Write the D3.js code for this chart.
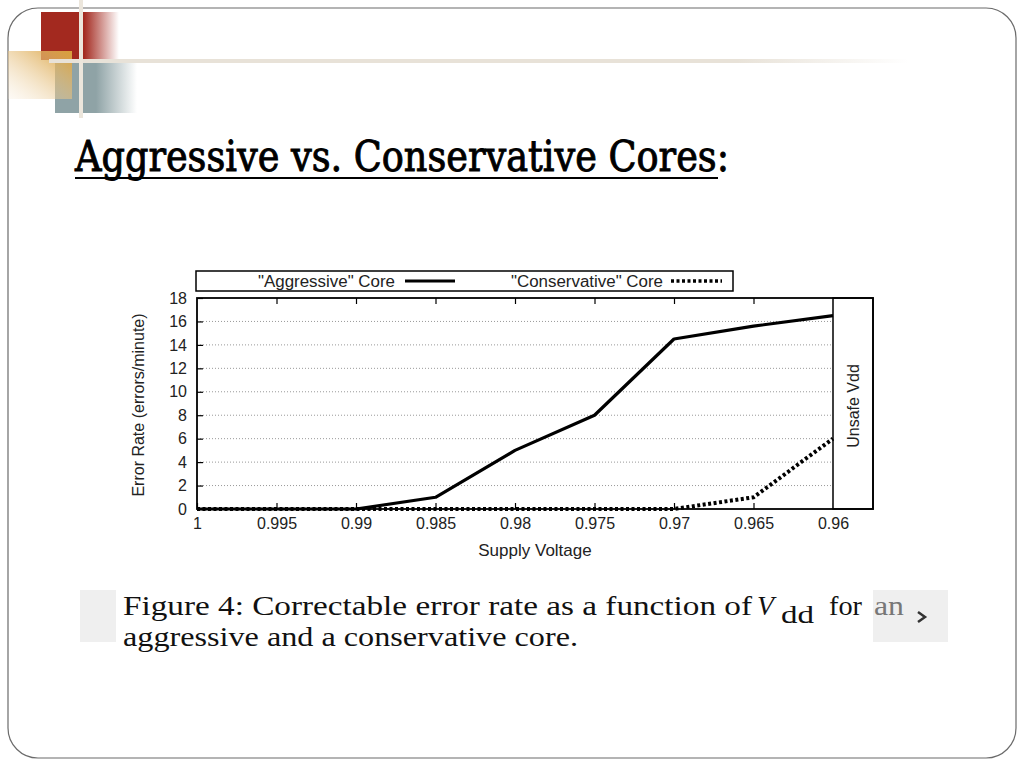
<!DOCTYPE html>
<html><head><meta charset="utf-8">
<script src="https://cdn.jsdelivr.net/npm/d3@7"></script>
<style>body{margin:0;background:#fff}svg{display:block}</style>
</head><body>
<script>
const voltages = [1, 0.995, 0.99, 0.985, 0.98, 0.975, 0.97, 0.965, 0.96];
const aggressive = [0, 0, 0, 1, 5, 8, 14.5, 15.6, 16.5];
const conservative = [0, 0, 0, 0, 0, 0, 0, 1, 6];
const yTicks = [0, 2, 4, 6, 8, 10, 12, 14, 16, 18];
const xTickLabels = ["1", "0.995", "0.99", "0.985", "0.98", "0.975", "0.97", "0.965", "0.96"];
const seriesNames = ['"Aggressive" Core', '"Conservative" Core'];

(function () {
const W = 1024, H = 768;
const svg = d3.select("body").append("svg").attr("width", W).attr("height", H);
const defs = svg.append("defs");
function grad(id, c, stops, x2, y2) {
  const g = defs.append("linearGradient").attr("id", id).attr("x1", 0).attr("y1", 0).attr("x2", x2).attr("y2", y2);
  stops.forEach(s => g.append("stop").attr("offset", s[0]).attr("stop-color", c).attr("stop-opacity", s[1]));
}
grad("gRed", "#a3291f", [[0, 1], [0.55, 1], [1, 0]], 1, 0);
grad("gBlue", "#8fa3a6", [[0, 1], [0.5, 1], [1, 0]], 1, 0);
grad("gLine", "#e8e2d8", [[0, 1], [0.8, 1], [1, 0]], 1, 0);

// slide frame
svg.append("rect").attr("x", 8).attr("y", 8).attr("width", 1008).attr("height", 750)
  .attr("rx", 30).attr("fill", "#fff").attr("stroke", "#6b6b6b").attr("stroke-width", 1.2);

// decoration
svg.append("rect").attr("x", 41).attr("y", 12).attr("width", 78).attr("height", 48).attr("fill", "url(#gRed)");
svg.append("rect").attr("x", 55).attr("y", 63).attr("width", 82).attr("height", 50).attr("fill", "url(#gBlue)");
const gg = defs.append("linearGradient").attr("id", "gGold2").attr("x1", 1).attr("y1", 0).attr("x2", 0).attr("y2", 1);
gg.append("stop").attr("offset", 0).attr("stop-color", "#d9a03a").attr("stop-opacity", 1);
gg.append("stop").attr("offset", 1).attr("stop-color", "#f5e6cf").attr("stop-opacity", 0.2);
svg.append("rect").attr("x", 8).attr("y", 51).attr("width", 64).attr("height", 48).attr("fill", "url(#gGold2)");
svg.append("rect").attr("x", 49).attr("y", 59).attr("width", 860).attr("height", 4).attr("fill", "url(#gLine)");
svg.append("rect").attr("x", 79).attr("y", 0).attr("width", 4).attr("height", 118).attr("fill", "#ece6dc");

// title
const tf = "DejaVu Serif Condensed, DejaVu Serif, serif";
svg.append("text").attr("x", 75).attr("y", 171)
  .attr("font-family", tf).attr("font-size", 43).attr("fill", "#000")
  .attr("stroke", "#000").attr("stroke-width", 0.9)
  .attr("textLength", 654).attr("lengthAdjust", "spacingAndGlyphs")
  .text("Aggressive vs. Conservative Cores:");
svg.append("line").attr("x1", 75).attr("x2", 718).attr("y1", 178).attr("y2", 178).attr("stroke", "#000").attr("stroke-width", 2);

// chart
const pL = 197, pR = 833, pT = 298, pB = 509, boxRight = 873;
const x = d3.scaleLinear().domain([1, 0.96]).range([pL, pR]);
const y = d3.scaleLinear().domain([0, 18]).range([pB, pT]);
const cf = "Liberation Sans, Arial, sans-serif";
const fs = 16;
const g = svg.append("g");

// gridlines
g.selectAll("line.grid").data(yTicks.filter(d => d > 0 && d < 18)).enter().append("line")
  .attr("x1", pL).attr("x2", pR).attr("y1", d => y(d)).attr("y2", d => y(d))
  .attr("stroke", "#999").attr("stroke-width", 1).attr("stroke-dasharray", "1,2");

// axes
const yAxis = d3.axisLeft(y).tickValues(yTicks).tickSize(-6).tickPadding(10).tickFormat(d3.format("d"));
const ya = g.append("g").attr("transform", `translate(${pL},0)`).call(yAxis);
const xAxis = d3.axisBottom(x).tickValues(voltages).tickSize(-6).tickPadding(9).tickFormat((d, i) => xTickLabels[i]);
const xa = g.append("g").attr("transform", `translate(0,${pB})`).call(xAxis);
const xAxisTop = d3.axisTop(x).tickValues(voltages.slice(1, -1)).tickSize(-6).tickFormat("");
const xt = g.append("g").attr("transform", `translate(0,${pT})`).call(xAxisTop);
[ya, xa, xt].forEach(a => {
  a.select(".domain").remove();
  a.selectAll("line").attr("stroke", "#000").attr("stroke-width", 1.2);
  a.selectAll("text").attr("font-family", cf).attr("font-size", fs).attr("fill", "#222");
});

// unsafe region
g.append("rect").attr("x", pR).attr("y", pT).attr("width", boxRight - pR).attr("height", pB - pT)
  .attr("fill", "#fff").attr("stroke", "#000").attr("stroke-width", 1.5);
g.append("text").attr("transform", `translate(${(pR + boxRight) / 2 + 6},406) rotate(-90)`)
  .attr("text-anchor", "middle").attr("font-family", cf).attr("font-size", fs).attr("fill", "#222").text("Unsafe Vdd");

// frame
g.append("rect").attr("x", pL).attr("y", pT).attr("width", boxRight - pL).attr("height", pB - pT)
  .attr("fill", "none").attr("stroke", "#000").attr("stroke-width", 1.8);

// lines
const line = d3.line().x((d, i) => x(voltages[i])).y(d => y(d));
g.append("path").datum(conservative).attr("d", line).attr("fill", "none").attr("stroke", "#000")
  .attr("stroke-width", 4).attr("stroke-dasharray", "3,2.5");
g.append("path").datum(aggressive).attr("d", line).attr("fill", "none").attr("stroke", "#000")
  .attr("stroke-width", 3.2).attr("stroke-linejoin", "round");

// axis labels
g.append("text").attr("transform", `translate(144,405) rotate(-90)`).attr("text-anchor", "middle")
  .attr("font-family", cf).attr("font-size", fs).attr("fill", "#222").text("Error Rate (errors/minute)");
g.append("text").attr("x", 535).attr("y", 556).attr("text-anchor", "middle")
  .attr("font-family", cf).attr("font-size", 17).attr("fill", "#222").text("Supply Voltage");

// legend
g.append("rect").attr("x", 196).attr("y", 271).attr("width", 537).attr("height", 20)
  .attr("fill", "#fff").attr("stroke", "#000").attr("stroke-width", 1.5);
g.append("text").attr("x", 258).attr("y", 287).attr("font-family", cf).attr("font-size", fs)
  .attr("textLength", 137).attr("lengthAdjust", "spacingAndGlyphs").attr("fill", "#222").text(seriesNames[0]);
g.append("line").attr("x1", 405).attr("x2", 455).attr("y1", 281).attr("y2", 281).attr("stroke", "#000").attr("stroke-width", 3.2);
g.append("text").attr("x", 511).attr("y", 287).attr("font-family", cf).attr("font-size", fs)
  .attr("textLength", 152).attr("lengthAdjust", "spacingAndGlyphs").attr("fill", "#222").text(seriesNames[1]);
g.append("line").attr("x1", 671).attr("x2", 722).attr("y1", 281).attr("y2", 281).attr("stroke", "#000")
  .attr("stroke-width", 3.5).attr("stroke-dasharray", "3,2.5");

// caption
svg.append("rect").attr("x", 80).attr("y", 590).attr("width", 36).attr("height", 52).attr("fill", "#efefef");
svg.append("rect").attr("x", 873).attr("y", 590).attr("width", 75).attr("height", 52).attr("fill", "#efefef");
const sf = "Liberation Serif, serif";
function cap(txt, x0, len, yb, opts) {
  const t = svg.append("text").attr("x", x0).attr("y", yb).attr("font-family", sf).attr("font-size", opts && opts.size || 28)
    .attr("fill", opts && opts.fill || "#111").attr("textLength", len).attr("lengthAdjust", "spacingAndGlyphs").text(txt);
  if (opts && opts.italic) t.attr("font-style", "italic");
  return t;
}
cap("Figure 4:  Correctable error rate as a function of", 123, 629, 615);
cap("V", 757, 17, 615, {italic: true});
cap("dd", 781, 33, 623, {size: 26});
cap("for", 829, 33, 615);
cap("an", 874, 30, 615, {fill: "#777"});
cap("aggressive and a conservative core.", 123, 455, 646);
svg.append("path").attr("d", "M918,612 L925,617 L918,622").attr("fill", "none").attr("stroke", "#333").attr("stroke-width", 2.5);
})();
</script>
</body></html>
